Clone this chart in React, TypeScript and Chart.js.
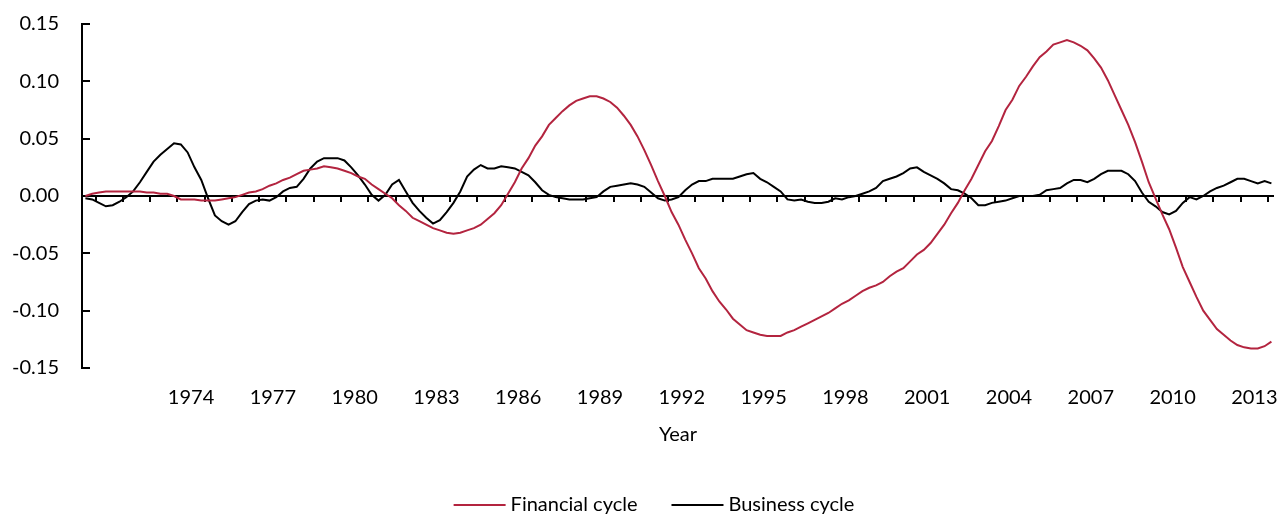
import React, { useEffect, useRef } from "react";
import { Chart, registerables } from "chart.js";

Chart.register(...registerables);

// Quarterly data, first observation 1970 Q3, last 2014 Q1
const startYear = 1970;
const startQuarter = 3;

const financialCycle: number[] = [
  0.000, 0.002,
  0.003, 0.004, 0.004, 0.004,
  0.004, 0.004, 0.004, 0.003,
  0.003, 0.002, 0.002, 0.000,
  -0.003, -0.003, -0.003, -0.004,
  -0.004, -0.004, -0.003, -0.002,
  -0.001, 0.001, 0.003, 0.004,
  0.006, 0.009, 0.011, 0.014,
  0.016, 0.019, 0.022, 0.023,
  0.024, 0.026, 0.025, 0.024,
  0.022, 0.020, 0.017, 0.015,
  0.010, 0.006, 0.002, -0.002,
  -0.008, -0.013, -0.019, -0.022,
  -0.025, -0.028, -0.030, -0.032,
  -0.033, -0.032, -0.030, -0.028,
  -0.025, -0.020, -0.015, -0.008,
  0.002, 0.012, 0.024, 0.033,
  0.044, 0.052, 0.062, 0.068,
  0.074, 0.079, 0.083, 0.085,
  0.087, 0.087, 0.085, 0.082,
  0.077, 0.070, 0.062, 0.052,
  0.040, 0.027, 0.013, 0.000,
  -0.014, -0.025, -0.038, -0.050,
  -0.063, -0.072, -0.083, -0.092,
  -0.099, -0.107, -0.112, -0.117,
  -0.119, -0.121, -0.122, -0.122,
  -0.122, -0.119, -0.117, -0.114,
  -0.111, -0.108, -0.105, -0.102,
  -0.098, -0.094, -0.091, -0.087,
  -0.083, -0.080, -0.078, -0.075,
  -0.070, -0.066, -0.063, -0.057,
  -0.051, -0.047, -0.041, -0.033,
  -0.025, -0.015, -0.006, 0.005,
  0.015, 0.027, 0.039, 0.048,
  0.061, 0.075, 0.084, 0.096,
  0.104, 0.113, 0.121, 0.126,
  0.132, 0.134, 0.136, 0.134,
  0.131, 0.127, 0.120, 0.112,
  0.101, 0.088, 0.075, 0.062,
  0.047, 0.030, 0.012, -0.002,
  -0.016, -0.029, -0.045, -0.062,
  -0.075, -0.088, -0.100, -0.108,
  -0.116, -0.121, -0.126, -0.130,
  -0.132, -0.133, -0.133, -0.131,
  -0.127,
];

const businessCycle: number[] = [
  -0.002, -0.003,
  -0.006, -0.009, -0.008, -0.005,
  -0.001, 0.004, 0.012, 0.021,
  0.030, 0.036, 0.041, 0.046,
  0.045, 0.038, 0.025, 0.014,
  -0.002, -0.017, -0.022, -0.025,
  -0.022, -0.014, -0.007, -0.004,
  -0.003, -0.004, -0.001, 0.004,
  0.007, 0.008, 0.015, 0.024,
  0.030, 0.033, 0.033, 0.033,
  0.031, 0.025, 0.018, 0.010,
  0.001, -0.004, 0.001, 0.010,
  0.014, 0.004, -0.006, -0.013,
  -0.019, -0.024, -0.021, -0.014,
  -0.006, 0.004, 0.017, 0.023,
  0.027, 0.024, 0.024, 0.026,
  0.025, 0.024, 0.021, 0.018,
  0.012, 0.005, 0.001, -0.001,
  -0.002, -0.003, -0.003, -0.003,
  -0.002, -0.001, 0.004, 0.008,
  0.009, 0.010, 0.011, 0.010,
  0.008, 0.003, -0.002, -0.004,
  -0.003, -0.001, 0.005, 0.010,
  0.013, 0.013, 0.015, 0.015,
  0.015, 0.015, 0.017, 0.019,
  0.020, 0.015, 0.012, 0.008,
  0.004, -0.003, -0.004, -0.003,
  -0.005, -0.006, -0.006, -0.005,
  -0.002, -0.003, -0.001, 0.000,
  0.002, 0.004, 0.007, 0.013,
  0.015, 0.017, 0.020, 0.024,
  0.025, 0.021, 0.018, 0.015,
  0.011, 0.006, 0.005, 0.002,
  -0.002, -0.008, -0.008, -0.006,
  -0.005, -0.004, -0.002, 0.000,
  0.000, 0.000, 0.001, 0.005,
  0.006, 0.007, 0.011, 0.014,
  0.014, 0.012, 0.015, 0.019,
  0.022, 0.022, 0.022, 0.019,
  0.013, 0.003, -0.005, -0.009,
  -0.014, -0.016, -0.013, -0.006,
  -0.001, -0.003, 0.000, 0.004,
  0.007, 0.009, 0.012, 0.015,
  0.015, 0.013, 0.011, 0.013,
  0.011,
];

const xTickYears: number[] = [1974, 1977, 1980, 1983, 1986, 1989, 1992, 1995, 1998, 2001, 2004, 2007, 2010, 2013];
const yTickValues: number[] = [-0.15, -0.1, -0.05, 0, 0.05, 0.1, 0.15];
const seriesLabels: string[] = ["Financial cycle", "Business cycle"];
const xTitle = "Year";

const RED = "#B3243F";
const BLACK = "#000000";
const FONT = "Lato, 'Open Sans', sans-serif";

function quarterX(i: number): number {
  // centre of the quarter
  return startYear + (startQuarter - 1) * 0.25 + i * 0.25 + 0.125;
}

const axesPlugin = {
  id: "customAxes",
  beforeDatasetsDraw(chart: any) {
    const { ctx, chartArea, scales } = chart;
    const xs = scales.x;
    const ys = scales.y;
    const y0 = ys.getPixelForValue(0);
    ctx.save();
    ctx.strokeStyle = "#000";
    ctx.lineWidth = 2;
    // zero line
    ctx.beginPath();
    ctx.moveTo(chartArea.left, y0);
    ctx.lineTo(chartArea.right, y0);
    ctx.stroke();
    // year ticks
    for (let yr = 1971; yr <= 2014; yr++) {
      const px = Math.round(xs.getPixelForValue(yr));
      ctx.beginPath();
      ctx.moveTo(px, y0);
      ctx.lineTo(px, y0 + 6);
      ctx.stroke();
    }
    // y axis line
    ctx.beginPath();
    ctx.moveTo(chartArea.left, ys.getPixelForValue(0.15) - 1);
    ctx.lineTo(chartArea.left, ys.getPixelForValue(-0.15) + 1);
    ctx.stroke();
    for (const v of yTickValues) {
      const py = Math.round(ys.getPixelForValue(v));
      ctx.beginPath();
      ctx.moveTo(chartArea.left, py);
      ctx.lineTo(chartArea.left + 8, py);
      ctx.stroke();
    }
    ctx.restore();
  },
  afterDraw(chart: any) {
    const { ctx, chartArea } = chart;
    ctx.save();
    ctx.fillStyle = "#000";
    ctx.font = `20px ${FONT}`;
    ctx.textAlign = "center";
    ctx.textBaseline = "middle";
    ctx.fillText(xTitle, (chartArea.left + chartArea.right) / 2, 435);

    // legend
    const lineLen = 52;
    const gapLineText = 5;
    const gapItems = 34;
    const widths = seriesLabels.map((l) => ctx.measureText(l).width);
    const total = widths.reduce((a, w) => a + lineLen + gapLineText + w, 0) + gapItems;
    let x = 654 - total / 2;
    const ly = 505;
    chart.data.datasets.forEach((ds: any, i: number) => {
      ctx.strokeStyle = ds.borderColor;
      ctx.lineWidth = 2;
      ctx.beginPath();
      ctx.moveTo(x, ly);
      ctx.lineTo(x + lineLen, ly);
      ctx.stroke();
      ctx.fillStyle = "#000";
      ctx.textAlign = "left";
      ctx.fillText(ds.label, x + lineLen + gapLineText, ly);
      x += lineLen + gapLineText + widths[i] + gapItems;
    });
    ctx.restore();
  },
};

export default function App() {
  const ref = useRef<HTMLCanvasElement | null>(null);
  useEffect(() => {
    if (!ref.current) return;
    const chart = new Chart(ref.current, {
      type: "line",
      data: {
        datasets: [
          {
            label: seriesLabels[0],
            data: financialCycle.map((v, i) => ({ x: quarterX(i), y: v })),
            borderColor: RED,
            borderWidth: 2,
            pointRadius: 0,
            tension: 0,
          },
          {
            label: seriesLabels[1],
            data: businessCycle.map((v, i) => ({ x: quarterX(i), y: v })),
            borderColor: BLACK,
            borderWidth: 2,
            pointRadius: 0,
            tension: 0,
          },
        ],
      },
      options: {
        animation: false,
        responsive: false,
        devicePixelRatio: 1,
        layout: { padding: { top: 24, right: 5, left: 0, bottom: 0 } },
        plugins: {
          legend: { display: false },
          tooltip: { enabled: false },
        },
        scales: {
          x: {
            type: "linear",
            min: 1970.5,
            max: 2014.22,
            grid: { display: false, drawTicks: false },
            border: { display: false },
            afterFit: (s: any) => {
              s.height = 149;
              s.paddingLeft = 0;
              s.paddingRight = 0;
            },
            afterBuildTicks: (s: any) => {
              s.ticks = xTickYears.map((y) => ({ value: y + 0.5 }));
            },
            ticks: {
              autoSkip: false,
              maxRotation: 0,
              padding: 18,
              color: "#000",
              font: { family: FONT, size: 20 },
              callback: (v: any) => String(Math.floor(Number(v))),
            },
          },
          y: {
            min: -0.15,
            max: 0.15,
            grid: { display: false, drawTicks: false },
            border: { display: false },
            afterFit: (s: any) => {
              s.width = 82;
              s.paddingTop = 0;
              s.paddingBottom = 0;
            },
            afterBuildTicks: (s: any) => {
              s.ticks = yTickValues.map((v) => ({ value: v }));
            },
            ticks: {
              padding: 23,
              color: "#000",
              font: { family: FONT, size: 20 },
              callback: (v: any) => Number(v).toFixed(2),
            },
          },
        },
      },
      plugins: [axesPlugin],
    });
    return () => chart.destroy();
  }, []);
  return (
    <div style={{ position: "absolute", left: 0, top: 0, width: 1279, height: 517, background: "#fff" }}>
      <canvas ref={ref} width={1279} height={517} />
    </div>
  );
}
